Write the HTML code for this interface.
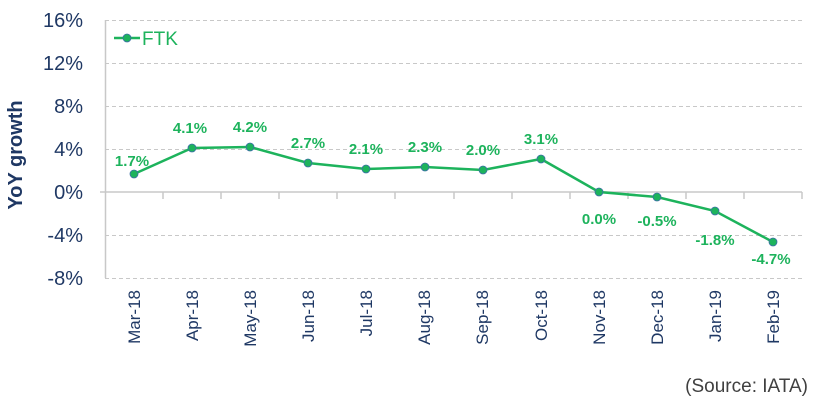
<!DOCTYPE html>
<html><head><meta charset="utf-8"><style>
html,body{margin:0;padding:0;background:#fff;}
svg{display:block;font-family:"Liberation Sans",Calibri,sans-serif;}
</style></head><body>
<svg width="817" height="411" viewBox="0 0 817 411" xmlns="http://www.w3.org/2000/svg">
<g stroke="#c8c8c8" stroke-width="1" stroke-dasharray="4,3">
<line x1="105" y1="20.5" x2="802" y2="20.5"/>
<line x1="105" y1="63.5" x2="802" y2="63.5"/>
<line x1="105" y1="106.5" x2="802" y2="106.5"/>
<line x1="105" y1="149.5" x2="802" y2="149.5"/>
<line x1="105" y1="235.5" x2="802" y2="235.5"/>
<line x1="105" y1="278.5" x2="802" y2="278.5"/>
</g>
<g stroke="#c8c8c8" stroke-width="1.5">
<line x1="105.5" y1="20" x2="105.5" y2="278"/>
<line x1="100" y1="192" x2="802" y2="192"/>
<line x1="163" y1="192" x2="163" y2="199"/><line x1="221" y1="192" x2="221" y2="199"/>
<line x1="279" y1="192" x2="279" y2="199"/><line x1="337" y1="192" x2="337" y2="199"/>
<line x1="395" y1="192" x2="395" y2="199"/><line x1="454" y1="192" x2="454" y2="199"/>
<line x1="512" y1="192" x2="512" y2="199"/><line x1="570" y1="192" x2="570" y2="199"/>
<line x1="628" y1="192" x2="628" y2="199"/><line x1="686" y1="192" x2="686" y2="199"/>
<line x1="744" y1="192" x2="744" y2="199"/><line x1="802" y1="192" x2="802" y2="199"/>
</g>
<g fill="#1f3864" font-size="20" text-anchor="end">
<text x="83" y="27">16%</text><text x="83" y="70">12%</text><text x="83" y="113">8%</text>
<text x="83" y="156">4%</text><text x="83" y="199">0%</text><text x="83" y="242">-4%</text><text x="83" y="285">-8%</text>
</g>
<text transform="translate(22,155) rotate(-90)" text-anchor="middle" font-size="20" font-weight="bold" fill="#1f3864">YoY growth</text>
<g fill="#1f3864" font-size="17" text-anchor="end">
<text transform="translate(140,290) rotate(-90)">Mar-18</text>
<text transform="translate(198,290) rotate(-90)">Apr-18</text>
<text transform="translate(256,290) rotate(-90)">May-18</text>
<text transform="translate(314,290) rotate(-90)">Jun-18</text>
<text transform="translate(372,290) rotate(-90)">Jul-18</text>
<text transform="translate(430,290) rotate(-90)">Aug-18</text>
<text transform="translate(488,290) rotate(-90)">Sep-18</text>
<text transform="translate(547,290) rotate(-90)">Oct-18</text>
<text transform="translate(605,290) rotate(-90)">Nov-18</text>
<text transform="translate(663,290) rotate(-90)">Dec-18</text>
<text transform="translate(721,290) rotate(-90)">Jan-19</text>
<text transform="translate(779,290) rotate(-90)">Feb-19</text>
</g>
<polyline fill="none" stroke="#1db35c" stroke-width="2.5" points="134,174 192,148 250,147 308,163 366,169 425,167 483,170 541,159 599,192 657,197 715,211 773,242"/>
<g fill="#1db35c" stroke="#3d6fa8" stroke-width="0.8">
<circle cx="134" cy="174" r="4"/><circle cx="192" cy="148" r="4"/><circle cx="250" cy="147" r="4"/>
<circle cx="308" cy="163" r="4"/><circle cx="366" cy="169" r="4"/><circle cx="425" cy="167" r="4"/>
<circle cx="483" cy="170" r="4"/><circle cx="541" cy="159" r="4"/><circle cx="599" cy="192" r="4"/>
<circle cx="657" cy="197" r="4"/><circle cx="715" cy="211" r="4"/><circle cx="773" cy="242" r="4"/>
</g>
<g fill="#1db35c" font-size="15" font-weight="bold" text-anchor="middle">
<text x="132" y="166">1.7%</text><text x="190" y="133">4.1%</text><text x="250" y="132">4.2%</text>
<text x="308" y="148">2.7%</text><text x="366" y="154">2.1%</text><text x="425" y="152">2.3%</text>
<text x="483" y="155">2.0%</text><text x="541" y="144">3.1%</text>
<text x="599" y="224">0.0%</text><text x="657" y="226">-0.5%</text><text x="715" y="245">-1.8%</text><text x="771" y="264">-4.7%</text>
</g>
<line x1="114" y1="38" x2="140" y2="38" stroke="#1db35c" stroke-width="2.5"/>
<circle cx="127" cy="38" r="4" fill="#1db35c" stroke="#3d6fa8" stroke-width="0.8"/>
<text x="142" y="45" font-size="19" fill="#1db35c">FTK</text>
<text x="808" y="392" text-anchor="end" font-size="19" fill="#404040">(Source: IATA)</text>
</svg>
</body></html>
